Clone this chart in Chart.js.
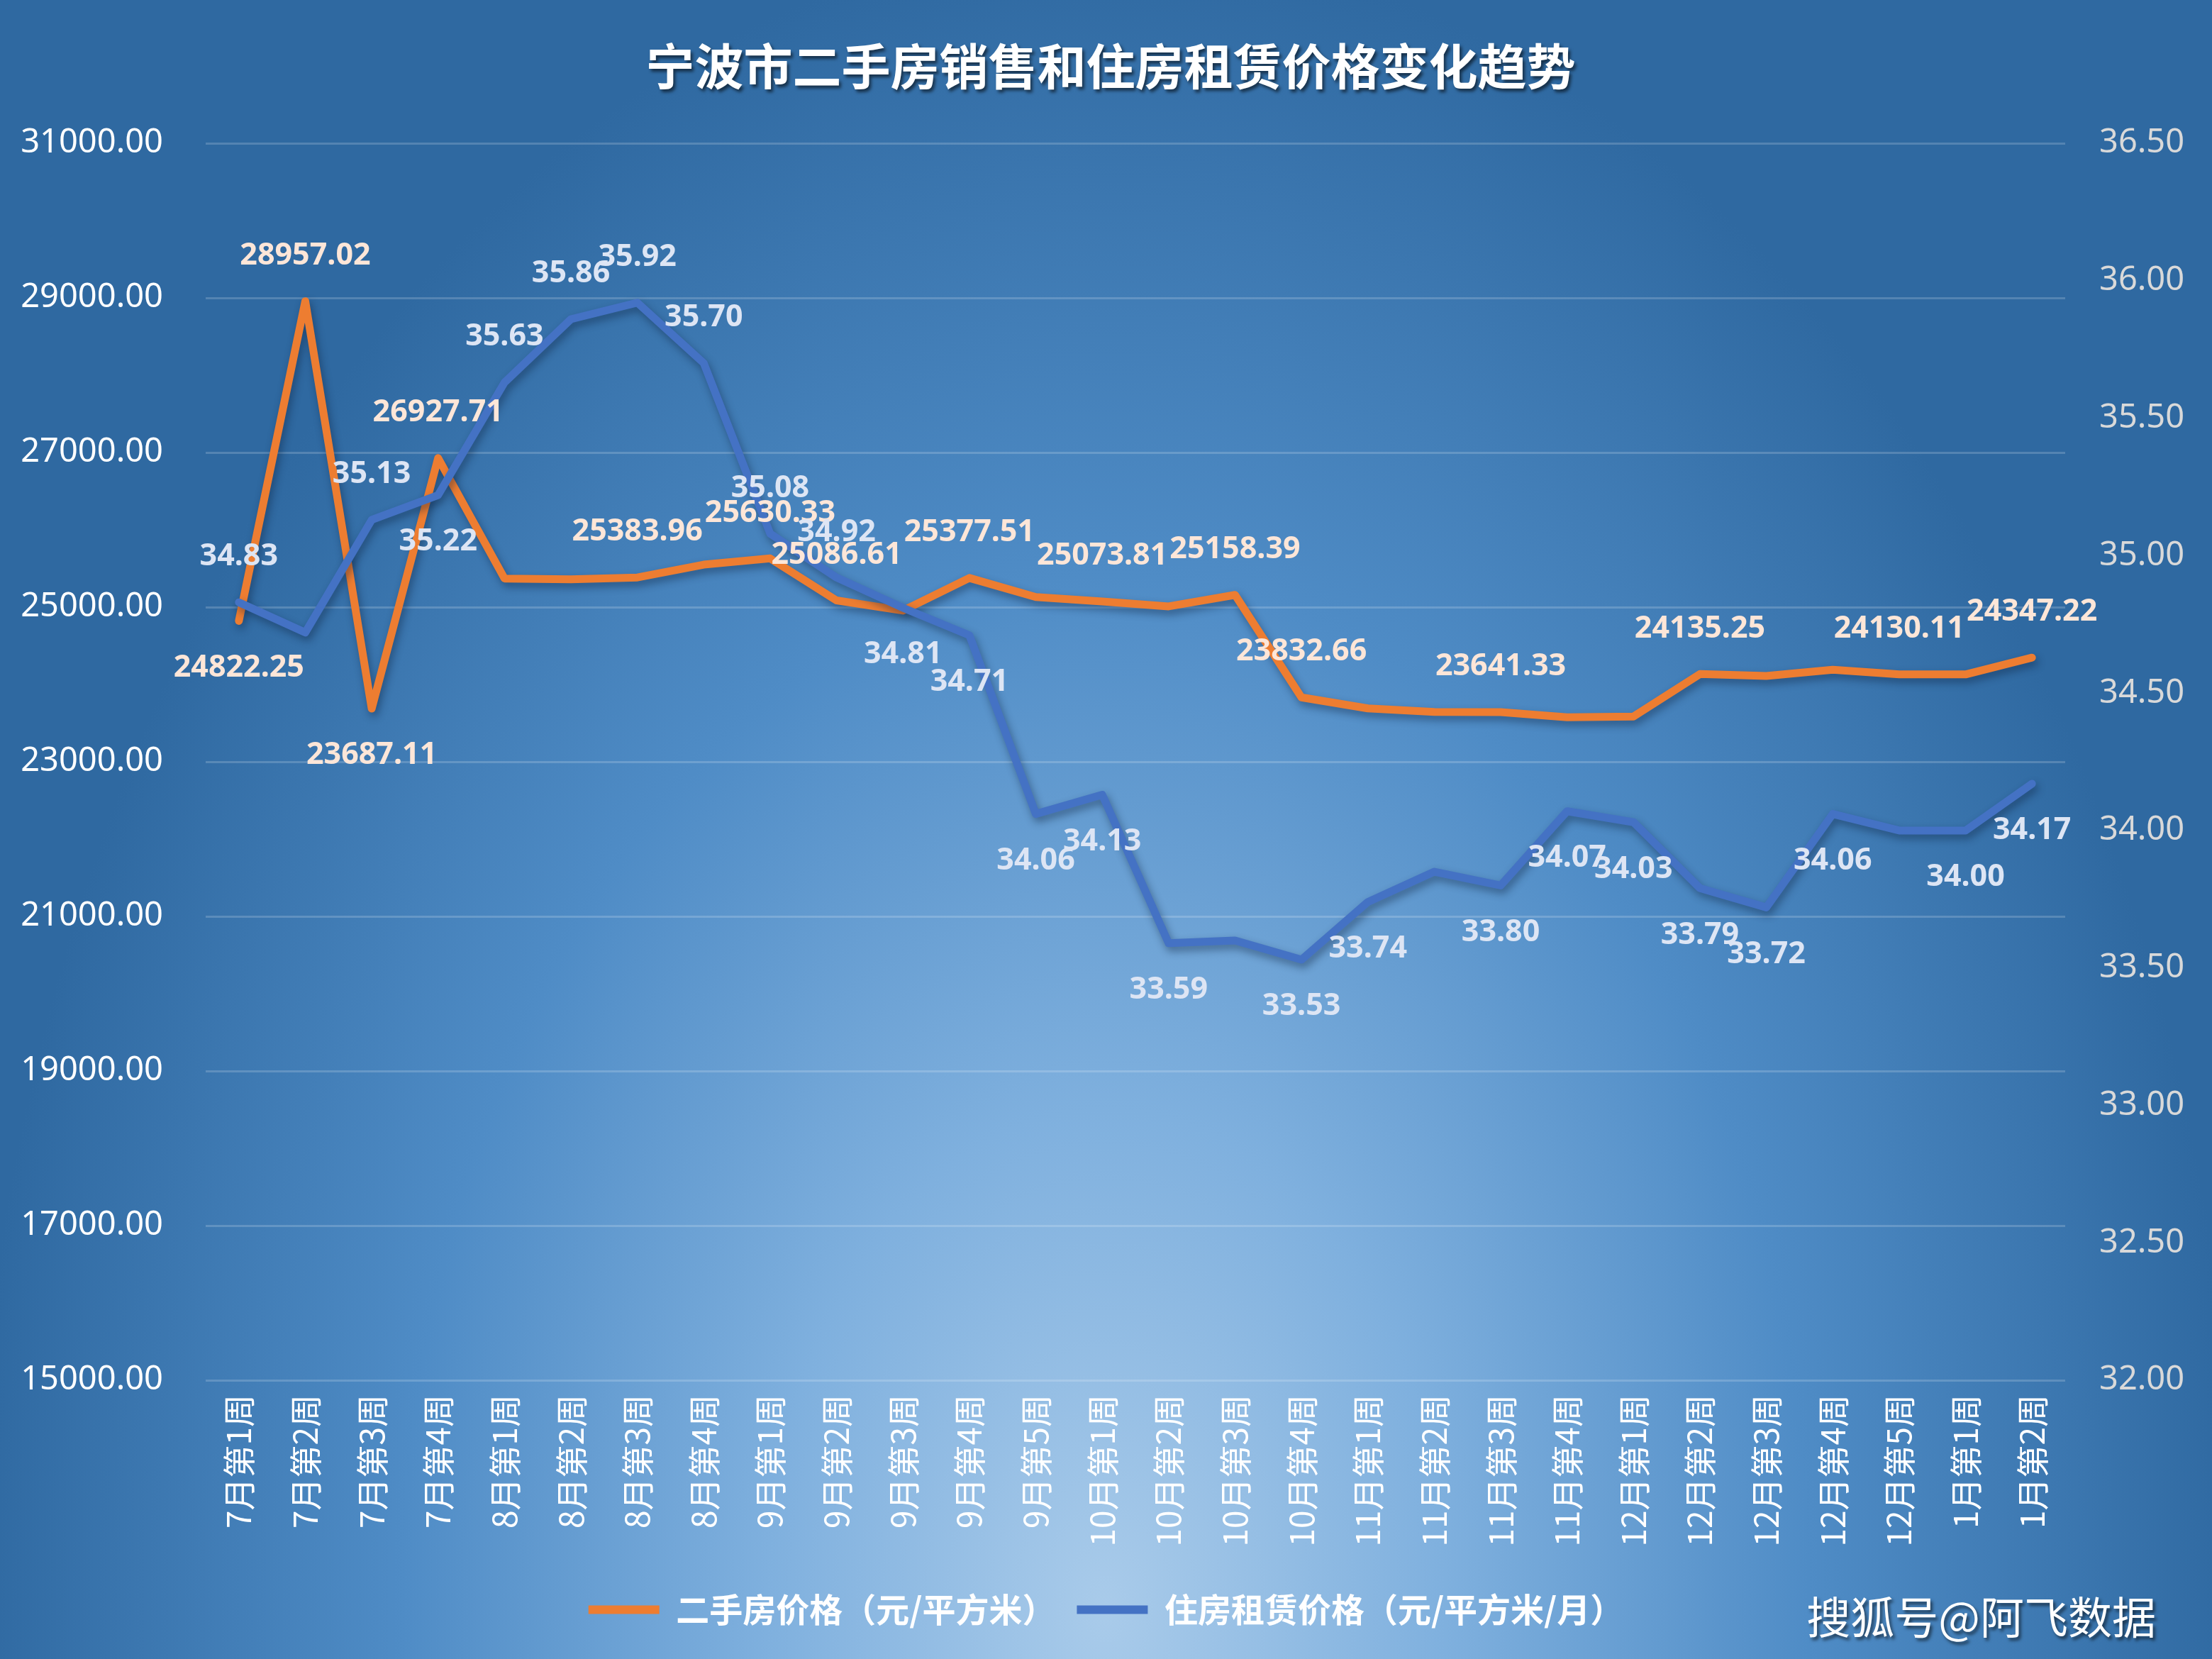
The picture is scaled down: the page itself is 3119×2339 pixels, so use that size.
<!DOCTYPE html>
<html>
<head>
<meta charset="utf-8">
<script src="https://cdn.jsdelivr.net/npm/chart.js@4.4.0/dist/chart.umd.min.js"></script>
<style>
  html, body { margin: 0; padding: 0; background: #3a76ae; }
  #wrap { position: relative; width: 3119px; height: 2339px; }
</style>
</head>
<body>
<div id="wrap"><canvas id="trendChart" width="3119" height="2339"></canvas></div>
<script>
const chartTitle = '宁波市二手房销售和住房租赁价格变化趋势'
const watermark = '搜狐号@阿飞数据'

const weeks = [
  '7月第1周', '7月第2周', '7月第3周', '7月第4周',
  '8月第1周', '8月第2周', '8月第3周', '8月第4周',
  '9月第1周', '9月第2周', '9月第3周', '9月第4周', '9月第5周',
  '10月第1周', '10月第2周', '10月第3周', '10月第4周',
  '11月第1周', '11月第2周', '11月第3周', '11月第4周',
  '12月第1周', '12月第2周', '12月第3周', '12月第4周', '12月第5周',
  '1月第1周', '1月第2周'
]

// 二手房价格（元/平方米）
const salePrice = [
  24822.25, 28957.02, 23687.11, 26927.71,
  25370, 25360, 25383.96, 25550,
  25630.33, 25086.61, 24955, 25377.51, 25130,
  25073.81, 25010, 25158.39, 23832.66,
  23690, 23645, 23641.33, 23575,
  23585, 24135.25, 24110, 24190, 24130.11,
  24130, 24347.22
]

// 住房租赁价格（元/平方米/月）
const rentPrice = [
  34.83, 34.72, 35.13, 35.22,
  35.63, 35.86, 35.92, 35.70,
  35.08, 34.92, 34.81, 34.71, 34.06,
  34.13, 33.59, 33.60, 33.53,
  33.74, 33.85, 33.80, 34.07,
  34.03, 33.79, 33.72, 34.06, 34.00,
  34.00, 34.17
]

const saleTicks = [15000, 17000, 19000, 21000, 23000, 25000, 27000, 29000, 31000]
const rentTicks = [32.0, 32.5, 33.0, 33.5, 34.0, 34.5, 35.0, 35.5, 36.0, 36.5]

// where the value label sits: 'up', 'down' or null (no label)
const saleLabelPos = [
  'down', 'up', 'down', 'up', null, null, 'up', null, 'up', 'up', null, 'up', null,
  'up', null, 'up', 'up', null, null, 'up', null, null, 'up', null, null, 'up', null, 'up'
]
const rentLabelPos = [
  'up', null, 'up', 'down', 'up', 'up', 'up', 'up', 'up', 'up', 'down', 'down', 'down',
  'down', 'down', null, 'down', 'down', null, 'down', 'down', 'down', 'down', 'down', 'down', null, 'down', 'down'
]

const backdrop = {
  id: 'backdrop',
  beforeDraw(chart) {
    const { ctx, width, height } = chart
    ctx.save()
    ctx.translate(width * 0.5, height * 0.97)
    ctx.scale(0.68, 1)
    const g = ctx.createRadialGradient(0, 0, 0, 0, 0, 2350)
    g.addColorStop(0, '#a9cbea')
    g.addColorStop(0.3, '#7fb0de')
    g.addColorStop(0.62, '#4f8cc6')
    g.addColorStop(1, '#2f69a1')
    ctx.fillStyle = g
    ctx.fillRect(-width * 2, -height * 2, width * 4, height * 4)
    ctx.restore()
  }
}

const lineShadow = {
  id: 'lineShadow',
  beforeDatasetDraw(chart) {
    const ctx = chart.ctx
    ctx.save()
    ctx.shadowColor = 'rgba(10, 30, 60, 0.45)'
    ctx.shadowBlur = 12
    ctx.shadowOffsetX = 3
    ctx.shadowOffsetY = 6
  },
  afterDatasetDraw(chart) {
    chart.ctx.restore()
  }
}

const valueLabels = {
  id: 'valueLabels',
  afterDatasetsDraw(chart) {
    const ctx = chart.ctx
    ctx.save()
    ctx.font = 'bold 43px "Noto Sans", "DejaVu Sans", sans-serif'
    ctx.textAlign = 'center'
    ctx.textBaseline = 'middle'
    chart.data.datasets.forEach((ds, i) => {
      const meta = chart.getDatasetMeta(i)
      meta.data.forEach((pt, j) => {
        const pos = ds.labelPos[j]
        if (!pos) return
        const dy = pos === 'up' ? -64 : 66
        ctx.fillStyle = ds.labelColor
        ctx.fillText(ds.data[j].toFixed(2), pt.x, pt.y + dy)
      })
    })
    ctx.restore()
  }
}

const headings = {
  id: 'headings',
  afterDraw(chart) {
    const ctx = chart.ctx
    ctx.save()
    ctx.shadowColor = 'rgba(0, 0, 0, 0.55)'
    ctx.shadowBlur = 4
    ctx.shadowOffsetX = 3
    ctx.shadowOffsetY = 4
    ctx.fillStyle = '#ffffff'
    ctx.textBaseline = 'middle'
    ctx.textAlign = 'center'
    ctx.font = 'bold 69px "Noto Sans CJK SC", sans-serif'
    ctx.fillText(chartTitle, 1566, 94)
    ctx.textAlign = 'right'
    ctx.font = '62px "Noto Sans CJK SC", sans-serif'
    ctx.fillText(watermark, 3040, 2280)
    ctx.restore()
  }
}

new Chart(document.getElementById('trendChart'), {
  type: 'line',
  data: {
    labels: weeks,
    datasets: [
      {
        label: '二手房价格（元/平方米）',
        data: salePrice,
        yAxisID: 'y',
        borderColor: '#ed7d31',
        backgroundColor: '#ed7d31',
        borderWidth: 11,
        borderJoinStyle: 'round',
        borderCapStyle: 'round',
        pointRadius: 0,
        tension: 0,
        order: 1,
        labelPos: saleLabelPos,
        labelColor: '#fde6d8'
      },
      {
        label: '住房租赁价格（元/平方米/月）',
        data: rentPrice,
        yAxisID: 'y1',
        borderColor: '#4472c4',
        backgroundColor: '#4472c4',
        borderWidth: 11,
        borderJoinStyle: 'round',
        borderCapStyle: 'round',
        pointRadius: 0,
        tension: 0,
        order: 0,
        labelPos: rentLabelPos,
        labelColor: '#dde5f4'
      }
    ]
  },
  options: {
    responsive: false,
    animation: false,
    devicePixelRatio: 1,
    layout: { padding: { top: 202, bottom: 36, left: 0, right: 0 } },
    plugins: {
      title: { display: false },
      tooltip: { enabled: false },
      legend: {
        position: 'bottom',
        labels: {
          color: '#ffffff',
          font: { family: '"Noto Sans CJK SC", sans-serif', size: 47, weight: 'bold' },
          boxWidth: 100,
          boxHeight: 12,
          useBorderRadius: true,
          borderRadius: 6,
          padding: 30,
          generateLabels: chart => chart.data.datasets.map((ds, i) => ({
            text: ds.label,
            fillStyle: ds.borderColor,
            strokeStyle: ds.borderColor,
            lineWidth: 0,
            fontColor: '#ffffff',
            hidden: false,
            datasetIndex: i
          }))
        }
      }
    },
    scales: {
      x: {
        offset: true,
        grid: { display: false },
        border: { display: false },
        ticks: {
          color: '#ffffff',
          autoSkip: false,
          minRotation: 90,
          maxRotation: 90,
          padding: 12,
          font: { family: '"Noto Sans CJK SC", sans-serif', size: 46 }
        },
        afterFit(scale) { scale.height = 270 }
      },
      y: {
        position: 'left',
        min: 15000,
        max: 31000,
        afterBuildTicks(scale) { scale.ticks = saleTicks.map(v => ({ value: v })) },
        grid: { color: 'rgba(255,255,255,0.18)', lineWidth: 3, drawTicks: false },
        border: { display: false },
        ticks: {
          color: '#ffffff',
          padding: 60,
          font: { family: '"Noto Sans", sans-serif', size: 47 },
          callback: v => Number(v).toFixed(2)
        },
        afterFit(scale) { scale.width = 290 }
      },
      y1: {
        position: 'right',
        min: 32,
        max: 36.5,
        afterBuildTicks(scale) { scale.ticks = rentTicks.map(v => ({ value: v })) },
        grid: { display: false, drawTicks: false },
        border: { display: false },
        ticks: {
          color: '#d9d9d9',
          padding: 48,
          font: { family: '"Noto Sans", sans-serif', size: 47 },
          callback: v => Number(v).toFixed(2)
        },
        afterFit(scale) { scale.width = 207 }
      }
    }
  },
  plugins: [backdrop, lineShadow, valueLabels, headings]
})
</script>
</body>
</html>
